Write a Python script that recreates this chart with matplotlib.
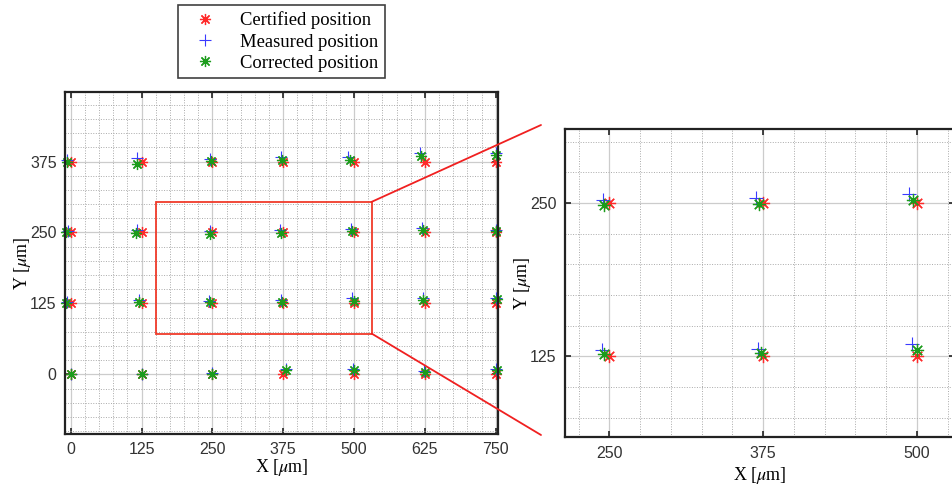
import matplotlib
matplotlib.use("Agg")
import matplotlib.pyplot as plt
from matplotlib.patches import Rectangle, ConnectionPatch
from matplotlib.ticker import MultipleLocator, FixedLocator

plt.rcParams['mathtext.fontset'] = 'stix'

# ---------------- data ----------------
grid_x = [0, 125, 250, 375, 500, 625, 750]
grid_y = [0, 125, 250, 375]

cert_x = grid_x * 4
cert_y = [y for y in grid_y for _ in grid_x]

meas_x = [0, 125, 250, 380, 499, 624, 750,
          -6, 121, 244, 371, 496, 621, 750,
          -5, 117, 245, 369.5, 494, 620, 750,
          -6, 117, 246, 371, 490, 617, 750]
meas_y = [1, 1, 2, 10, 10, 6, 10,
          128, 131, 130, 131, 135, 134, 135,
          252, 254, 252, 254, 257, 258, 255,
          378, 381, 379, 383, 383, 390, 390]

corr_x = [0, 125, 250, 380, 500, 625, 752,
          -8, 120, 246, 373, 500, 622, 752,
          -8, 116, 246, 371.5, 497, 621, 751,
          -7, 117, 248, 372, 493, 619, 751]
corr_y = [0, 0, 1, 8, 8, 4, 8,
          125, 128, 127, 128, 130, 131, 132,
          250, 249, 248, 249.5, 252, 254, 252,
          374, 371, 376, 377, 378, 385, 386]

main_xlim = (-10, 754)
main_ylim = (-105, 497)
zoom_rect = (150, 72, 531, 304)   # x0, y0, x1, y1 in main data units
inset_xlim = (214, 531)
inset_ylim = (59, 310)

main_xticks = [0, 125, 250, 375, 500, 625, 750]
main_yticks = [0, 125, 250, 375]
inset_xticks = [250, 375, 500]
inset_yticks = [125, 250]

labels = ["Certified position", "Measured position", "Corrected position"]

# ---------------- styling ----------------
RED = '#ff2a2a'
BLUE = '#3a3aff'
GREEN = '#1c9c1c'
AST = (8, 2, 0)
tick_font = {'family': 'Liberation Sans', 'size': 11.5}
lab_font = {'family': 'Liberation Serif', 'size': 13}

W, H = 953, 488
fig = plt.figure(figsize=(W / 100, H / 100), dpi=100)

ax = fig.add_axes([65 / W, 1 - 434 / H, (498 - 65) / W, (434 - 92.3) / H])
axi = fig.add_axes([565 / W, 1 - 437.3 / H, (955 - 565) / W, (437.3 - 129.3) / H])


def style(a, xt, yt, xl, yl):
    a.set_xlim(*xl)
    a.set_ylim(*yl)
    a.xaxis.set_major_locator(FixedLocator(xt))
    a.yaxis.set_major_locator(FixedLocator(yt))
    a.xaxis.set_minor_locator(MultipleLocator(25))
    a.yaxis.set_minor_locator(MultipleLocator(25))
    a.grid(which='major', color='#cccccc', lw=0.9, ls='-')
    a.grid(which='minor', color='#aaaaaa', lw=0.7, ls=(0, (1.0, 1.6)))
    a.set_axisbelow(True)
    a.tick_params(which='major', direction='in', length=4, width=1.2,
                  top=True, right=True, color='#222222', pad=6,
                  labelcolor='#333333')
    a.tick_params(which='minor', length=0)
    for lab in a.get_xticklabels() + a.get_yticklabels():
        lab.set_fontfamily(tick_font['family'])
        lab.set_fontsize(tick_font['size'])
    for s in a.spines.values():
        s.set_linewidth(1.6)
        s.set_color('#222222')


style(ax, main_xticks, main_yticks, main_xlim, main_ylim)
style(axi, inset_xticks, inset_yticks, inset_xlim, inset_ylim)

for a, ms, clip in ((ax, 8, False), (axi, 9.5, True)):
    a.plot(cert_x, cert_y, ls='none', marker=AST, ms=ms, mec=RED, mew=0.9,
           label=labels[0], clip_on=clip)
    a.plot(meas_x, meas_y, ls='none', marker='+', ms=ms + 1, mec=BLUE, mew=0.8,
           label=labels[1], clip_on=clip)
    a.plot(corr_x, corr_y, ls='none', marker=AST, ms=ms, mec=GREEN, mew=0.9,
           label=labels[2], clip_on=clip)

ax.set_xlabel(r'X [$\mu$m]', fontdict=lab_font, labelpad=0)
ax.set_ylabel(r'Y [$\mu$m]', fontdict=lab_font, labelpad=-2)
axi.set_xlabel(r'X [$\mu$m]', fontdict=lab_font, labelpad=3)
axi.set_ylabel(r'Y [$\mu$m]', fontdict=lab_font, labelpad=-2)

# zoom rectangle and connector lines
x0, y0, x1, y1 = zoom_rect
ax.add_patch(Rectangle((x0, y0), x1 - x0, y1 - y0, fill=False,
                       ec='#f03a2a', lw=1.3, zorder=5, clip_on=False))
for yy, fy in ((y1, 125), (y0, 435)):
    cp = ConnectionPatch(xyA=(x1, yy), coordsA=ax.transData,
                         xyB=(541 / W, 1 - fy / H), coordsB=fig.transFigure,
                         color='#f02020', lw=1.3)
    fig.add_artist(cp)

# legend above the main axes
h, l = ax.get_legend_handles_labels()
leg = fig.legend(h, l, loc='upper left', bbox_to_anchor=(178 / W, 1 - 5 / H),
                 frameon=True, fancybox=False, edgecolor='#111111',
                 prop={'family': 'Liberation Serif', 'size': 13.4},
                 handlelength=2.2, handletextpad=0.8, borderpad=0.35,
                 labelspacing=0.22, borderaxespad=0)
leg.get_frame().set_linewidth(1.2)

fig.savefig('out.png', dpi=100)
